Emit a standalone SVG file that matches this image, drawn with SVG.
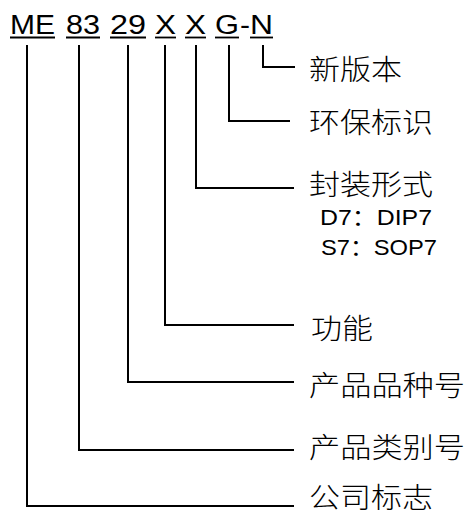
<svg xmlns="http://www.w3.org/2000/svg" width="468" height="516" viewBox="0 0 468 516">
<style>
.code{font-family:"Liberation Sans",Arial,sans-serif;font-size:27px;fill:#000}
.lab{font-family:"Noto Sans CJK SC","Liberation Sans",sans-serif;font-size:28px;font-weight:300;fill:#000}
.sub{font-family:"Liberation Sans","Noto Sans CJK SC",sans-serif;font-size:22px;fill:#000}
.ul{stroke:#000;stroke-width:1.8;fill:none}
.conn polyline{stroke:#000;stroke-width:2;fill:none;stroke-linejoin:miter}
</style>
<rect width="468" height="516" fill="#fff"/>
<g id="code">
<text class="code" x="10" y="33.5" textLength="45" lengthAdjust="spacingAndGlyphs">ME</text>
<text class="code" x="66" y="33.5" textLength="34" lengthAdjust="spacingAndGlyphs">83</text>
<text class="code" x="110" y="33.5" textLength="36" lengthAdjust="spacingAndGlyphs">29</text>
<text class="code" x="155" y="33.5" textLength="21" lengthAdjust="spacingAndGlyphs">X</text>
<text class="code" x="185" y="33.5" textLength="21" lengthAdjust="spacingAndGlyphs">X</text>
<text class="code" x="215" y="33.5" textLength="24" lengthAdjust="spacingAndGlyphs">G</text>
<text class="code" x="240" y="33.5" textLength="10" lengthAdjust="spacingAndGlyphs">-</text>
<text class="code" x="250" y="33.5" textLength="23" lengthAdjust="spacingAndGlyphs">N</text>
<line class="ul" x1="10" y1="37.5" x2="55" y2="37.5"/>
<line class="ul" x1="66" y1="37.5" x2="100" y2="37.5"/>
<line class="ul" x1="110" y1="37.5" x2="146" y2="37.5"/>
<line class="ul" x1="155" y1="37.5" x2="176" y2="37.5"/>
<line class="ul" x1="185" y1="37.5" x2="206" y2="37.5"/>
<line class="ul" x1="215" y1="37.5" x2="239" y2="37.5"/>
<line class="ul" x1="250" y1="37.5" x2="273" y2="37.5"/>
</g>
<g id="connectors" class="conn">
<polyline points="263,45 263,67 295,67"/>
<polyline points="229,45 229,121 290,121"/>
<polyline points="196,45 196,188 294,188"/>
<polyline points="165,45 165,325 294,325"/>
<polyline points="128,45 128,382 294,382"/>
<polyline points="79,45 79,450 294,450"/>
<polyline points="27,45 27,506 294,506"/>
</g>
<g id="n-version"><text class="lab" x="309" y="80" textLength="93" lengthAdjust="spacingAndGlyphs">新版本</text></g>
<g id="n-env"><text class="lab" x="309" y="133" textLength="124" lengthAdjust="spacingAndGlyphs">环保标识</text></g>
<g id="n-package">
<text class="lab" x="309" y="195" textLength="124" lengthAdjust="spacingAndGlyphs">封装形式</text>
<text class="sub" x="320" y="225" textLength="112" lengthAdjust="spacingAndGlyphs">D7：DIP7</text>
<text class="sub" x="321" y="255" textLength="116" lengthAdjust="spacingAndGlyphs">S7：SOP7</text>
</g>
<g id="n-function"><text class="lab" x="311" y="339" textLength="62" lengthAdjust="spacingAndGlyphs">功能</text></g>
<g id="n-variety"><text class="lab" x="309" y="396" textLength="156" lengthAdjust="spacingAndGlyphs">产品品种号</text></g>
<g id="n-category"><text class="lab" x="309" y="458" textLength="156" lengthAdjust="spacingAndGlyphs">产品类别号</text></g>
<g id="n-company"><text class="lab" x="309" y="508" textLength="124" lengthAdjust="spacingAndGlyphs">公司标志</text></g>
</svg>
